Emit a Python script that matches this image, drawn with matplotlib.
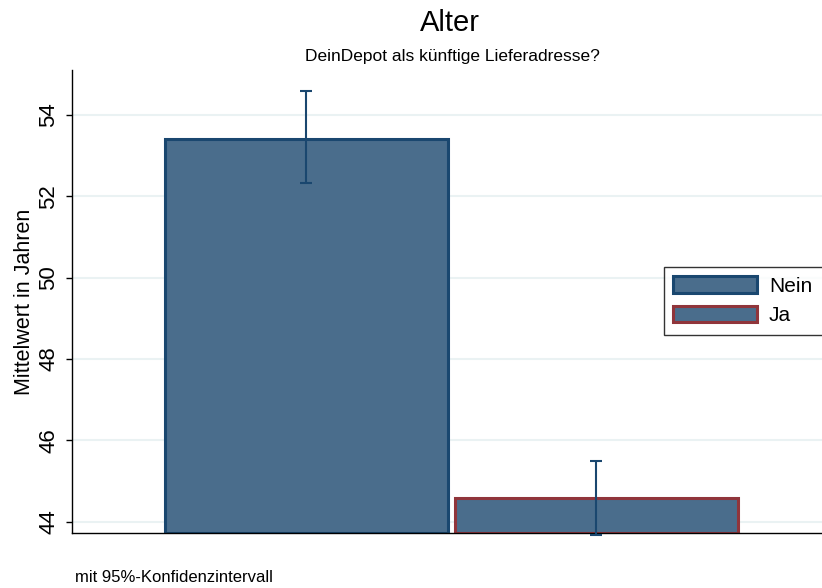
import matplotlib
matplotlib.use("Agg")
import matplotlib.pyplot as plt
import numpy as np

plt.rcParams['font.family'] = ['Liberation Sans', 'DejaVu Sans']

# Mittelwerte und 95%-Konfidenzintervalle
groups = ["Nein", "Ja"]
means = [53.41, 44.57]
ci_low = [52.33, 43.66]
ci_high = [54.59, 45.49]

fill = "#4a6d8c"
edges = ["#1a476f", "#90353b"]
navy = "#1a476f"

fig = plt.figure(figsize=(8.22, 5.88), dpi=100)
ax = fig.add_axes([72 / 822, 55 / 588, 1 - 72 / 822, (533 - 70) / 588])

ymin, ymax = 43.72, 55.11
x = np.arange(len(groups))
handles = []
for i, g in enumerate(groups):
    b = ax.bar(x[i], means[i] - ymin, bottom=ymin, width=0.975,
               color=fill, edgecolor=edges[i], linewidth=2.2, label=g, zorder=2)
    handles.append(b)

err = [np.array(means) - np.array(ci_low), np.array(ci_high) - np.array(means)]
ax.errorbar(x, means, yerr=err, fmt="none", ecolor=navy, elinewidth=1.5,
            capsize=4.5, capthick=1.5, zorder=3, clip_on=False)

ax.set_xlim(-0.8086, 1.7776)
ax.set_ylim(ymin, ymax)
ax.set_yticks([44, 46, 48, 50, 52, 54])
ax.tick_params(axis='y', labelsize=16, labelrotation=90, length=4, width=1, pad=5)
for lbl in ax.get_yticklabels():
    lbl.set_va('center')
ax.set_xticks([])
ax.yaxis.grid(True, color="#eaf2f3", linewidth=1.5, zorder=0)
ax.set_axisbelow(True)
for s in ["top", "right"]:
    ax.spines[s].set_visible(False)
ax.spines["left"].set_linewidth(1)
ax.spines["bottom"].set_linewidth(1)
ax.set_ylabel("Mittelwert in Jahren", fontsize=15.5)
ax.yaxis.set_label_coords(-0.05, 0.5)

fig.text(450 / 822, 1 - 23 / 588, "Alter", fontsize=21, ha="center", va="center")
fig.text(452 / 822, 1 - 57 / 588, "DeinDepot als künftige Lieferadresse?",
         fontsize=12.5, ha="center", va="center")
fig.text(75 / 822, 1 - 578 / 588, "mit 95%-Konfidenzintervall", fontsize=12,
         ha="left", va="center")

# Legende ragt rechts über den Rand hinaus
leg_top = 1 - 267 / 588
leg_h = 69 / 588
leg = fig.legend(handles=handles, labels=groups, loc="upper left",
                 bbox_to_anchor=(664 / 822, leg_top - leg_h, 190 / 822, leg_h),
                 mode="expand", fontsize=15,
                 frameon=True, fancybox=False, edgecolor="black",
                 handlelength=4.0, handleheight=0.82, borderpad=0.45,
                 labelspacing=0.5, handletextpad=0.58, borderaxespad=0)
leg.get_frame().set_linewidth(1)

fig.savefig("out.png", dpi=100)
